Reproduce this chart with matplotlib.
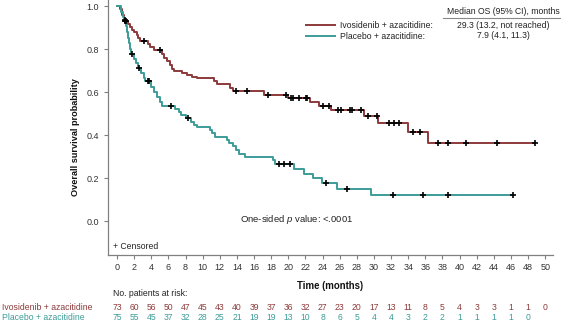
import numpy as np
import matplotlib
matplotlib.use("Agg")
import matplotlib.pyplot as plt
from matplotlib.transforms import blended_transform_factory

plt.rcParams['font.family'] = ['Liberation Sans', 'DejaVu Sans']
plt.rcParams['mathtext.fontset'] = 'custom'
plt.rcParams['mathtext.rm'] = 'Liberation Sans'
plt.rcParams['mathtext.it'] = 'Liberation Sans:italic'

# ================================================================================================
# Data
# ================================================================================================

ivo_t = [0, 0.3, 0.6, 0.8, 1.3, 1.5, 1.8, 2.0, 2.3, 2.5, 2.7, 3.6, 3.8, 4.3, 5.3, 5.5, 5.8, 6.2,
         6.4, 6.6, 7.6, 8.2, 8.8, 9.3, 11.3, 11.7, 13.2, 13.5, 17.2, 20.0, 22.5, 23.6, 25.0, 28.8,
         30.5, 34.0, 36.3]
ivo_s = [1.0, 0.986, 0.959, 0.932, 0.918, 0.904, 0.890, 0.877, 0.863, 0.849, 0.836, 0.822, 0.808,
         0.795, 0.777, 0.760, 0.743, 0.726, 0.709, 0.700, 0.690, 0.680, 0.672, 0.665, 0.650, 0.637,
         0.620, 0.603, 0.585, 0.572, 0.553, 0.535, 0.515, 0.488, 0.456, 0.414, 0.362]
ivo_cens = [0.9, 1.0, 3.2, 5.0, 13.9, 15.2, 17.6, 19.7, 20.3, 20.5, 21.3, 22.1, 22.2, 24.0, 24.8,
            25.8, 26.2, 27.2, 27.4, 28.5, 29.3, 30.3, 31.8, 32.3, 32.9, 34.5, 35.4, 37.5, 38.7,
            40.8, 44.4, 48.8]

pla_t = [0, 0.5, 0.7, 0.8, 1.0, 1.15, 1.3, 1.4, 1.5, 1.6, 2.0, 2.2, 2.45, 2.8, 3.1, 3.3, 4.0, 4.3,
         4.7, 5.0, 5.3, 6.8, 7.2, 7.5, 8.0, 8.6, 9.0, 9.3, 10.8, 11.1, 11.4, 12.9, 13.1, 13.5, 13.9,
         14.2, 15.0, 18.2, 18.4, 20.7, 21.8, 22.9, 23.9, 25.7, 29.7]
pla_s = [1.0, 0.973, 0.947, 0.933, 0.907, 0.880, 0.853, 0.827, 0.800, 0.777, 0.755, 0.733, 0.710,
         0.688, 0.665, 0.651, 0.625, 0.600, 0.577, 0.555, 0.535, 0.522, 0.508, 0.493, 0.478, 0.462,
         0.447, 0.437, 0.422, 0.408, 0.391, 0.377, 0.363, 0.350, 0.330, 0.312, 0.298, 0.282, 0.265,
         0.242, 0.220, 0.198, 0.177, 0.149, 0.121]
pla_cens = [0.9, 1.7, 2.6, 3.6, 3.7, 6.3, 8.3, 18.9, 19.5, 20.2, 24.4, 26.8, 32.2, 35.7, 38.7, 46.2]

risk_ivo = [73, 60, 56, 50, 47, 45, 43, 40, 39, 37, 36, 32, 27, 23, 20, 17, 13, 11, 8, 5, 4, 3, 3, 1, 1, 0]
risk_pla = [75, 55, 45, 37, 32, 28, 25, 21, 19, 19, 13, 10, 8, 6, 5, 4, 4, 3, 2, 2, 1, 1, 1, 1, 0]
x_ticks = list(range(0, 52, 2))

labels = ['Ivosidenib + azacitidine', 'Placebo + azacitidine']
medians = ['29.3 (13.2, not reached)', '7.9 (4.1, 11.3)']

RED = '#8c3a3a'
TEAL = '#3d9c98'
W, H = 564, 332
FS = 6.2

# ================================================================================================
# Plot
# ================================================================================================

fig = plt.figure(figsize=(W / 100, H / 100), dpi=100)
ax = fig.add_axes([108 / W, 1 - 255 / H, (553 - 108) / W, 255 / H])


def km_line(t, s, cens, color, label):
    t_end = max(cens[-1], t[-1])
    tt = np.array(t + [t_end])
    ss = np.array(s + [s[-1]])
    line, = ax.step(tt, ss, where='post', color=color, lw=1.4, label=label, zorder=2)
    idx = np.searchsorted(np.array(t), np.array(cens), side='right') - 1
    ax.plot(cens, np.array(s)[idx], ls='none', marker='+', ms=5, mew=1.2, color='black', zorder=3)
    return line


l1 = km_line(ivo_t, ivo_s, ivo_cens, RED, labels[0] + ':')
l2 = km_line(pla_t, pla_s, pla_cens, TEAL, labels[1] + ':')

ax.set_xlim(-1.05, 50.9)
ax.set_ylim(-0.158, 221 / 215)
ax.set_xticks(x_ticks)
ax.set_yticks([0.0, 0.2, 0.4, 0.6, 0.8, 1.0])
ax.set_yticklabels(['0.0', '0.2', '0.4', '0.6', '0.8', '1.0'])

for side in ['top', 'right']:
    ax.spines[side].set_visible(False)
for side in ['left', 'bottom']:
    ax.spines[side].set_color('#808080')
    ax.spines[side].set_linewidth(0.9)
ax.tick_params(axis='both', colors='#808080', labelcolor='#333333', labelsize=FS + 0.3, length=3, width=0.8)
ax.tick_params(axis='x', pad=3)

ax.set_xlabel('Time (months)', fontsize=6.9, fontweight='bold', color='#111111')
ax.xaxis.set_label_coords(0.5, (255 - 286) / 255)
ax.xaxis.label.set_va('center')
ax.set_ylabel('Overall survival probability', fontsize=6.6, fontweight='bold', color='#111111')
ax.yaxis.set_label_coords((75 - 108) / 445, (255 - 137) / 255)
ax.yaxis.label.set_va('center')

ax.text(0.011, 0.035, '+ Censored', transform=ax.transAxes, fontsize=FS, va='center', color='#222222')
ax.text((240 - 108) / 445, (255 - 220) / 255, 'One-sided $\\it{p}$ value: <.0001', transform=ax.transAxes,
        fontsize=6.8, va='center', color='#222222')

# legend + median table
leg = ax.legend(handles=[l1, l2], loc='upper left', bbox_to_anchor=(306 / W, 1 - 21 / H),
                bbox_transform=fig.transFigure, frameon=False, fontsize=FS, handlelength=3.4,
                handletextpad=0.6, borderpad=0, borderaxespad=0, labelspacing=0.25)
for txt in leg.get_texts():
    txt.set_color('#222222')

fig.text(503 / W, 1 - 12 / H, 'Median OS (95% CI), months', fontsize=FS, ha='center', va='center', color='#222222')
fig.add_artist(plt.Line2D([443 / W, 560 / W], [1 - 18 / H, 1 - 18 / H], color='#888888', lw=0.8))
fig.text(503 / W, 1 - 25 / H, medians[0], fontsize=FS, ha='center', va='center', color='#222222')
fig.text(503 / W, 1 - 36 / H, medians[1], fontsize=FS, ha='center', va='center', color='#222222')

# number at risk
trans = blended_transform_factory(ax.transData, fig.transFigure)
fig.text(113 / W, 1 - 293 / H, 'No. patients at risk:', fontsize=FS, va='center', color='#222222')
fig.text(2 / W, 1 - 307 / H, labels[0], fontsize=FS, va='center', color=RED)
fig.text(2 / W, 1 - 318 / H, labels[1], fontsize=FS, va='center', color=TEAL)
for x, n in zip(x_ticks, risk_ivo):
    ax.text(x, 1 - 307 / H, str(n), transform=trans, fontsize=FS, ha='center', va='center', color=RED)
for x, n in zip(x_ticks, risk_pla):
    ax.text(x, 1 - 318 / H, str(n), transform=trans, fontsize=FS, ha='center', va='center', color=TEAL)

fig.savefig('out.png', dpi=100)
